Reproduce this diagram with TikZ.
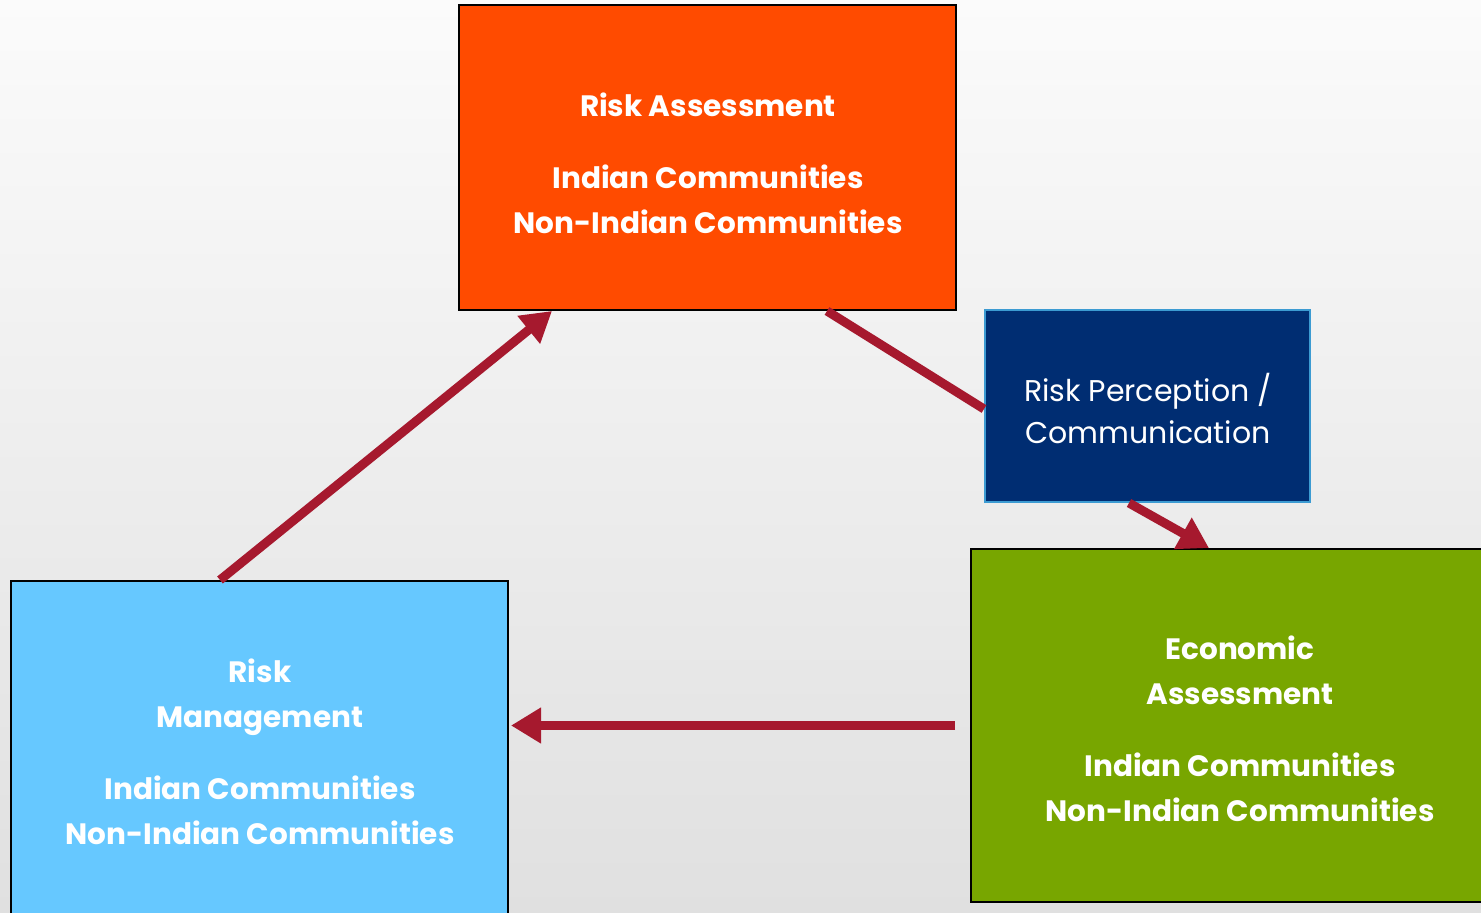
\documentclass[tikz,border=0pt]{standalone}
\usepackage{fontspec}
\setmainfont{Poppins}
\usetikzlibrary{arrows.meta,calc}
\definecolor{orangebox}{HTML}{FF4B00}
\definecolor{navybox}{HTML}{002D72}
\definecolor{navyline}{HTML}{3C9BD2}
\definecolor{greenbox}{HTML}{78A600}
\definecolor{skybox}{HTML}{66C8FF}
\definecolor{arrowred}{HTML}{A6192E}
\definecolor{bgtop}{HTML}{FBFBFB}
\definecolor{bgbot}{HTML}{E0E0E0}
\tikzset{
  box/.style={rectangle, draw=black, line width=2pt, inner sep=0pt},
  boldtext/.style={text=white, align=center, font=\fontsize{29.5}{45}\selectfont\bfseries},
  plaintext/.style={text=white, align=center, font=\fontsize{30}{42}\selectfont},
  link/.style={draw=arrowred, line width=9pt},
  linkarrow/.style={link, -{Triangle[length=30pt,width=34pt]}},
}
\begin{document}
\begin{tikzpicture}[x=1pt,y=-1pt]
\useasboundingbox (0,0) rectangle (1481,913);
\clip (0,0) rectangle (1481,913);
\shade[top color=bgtop, bottom color=bgbot] (0,0) rectangle (1481,913);
% boxes
\node[box, fill=orangebox, minimum width=497pt, minimum height=305pt] (ra) at (707.5,157.5) {};
\node[box, fill=skybox, minimum width=497pt, minimum height=360pt] (rm) at (259.5,761) {};
\node[box, fill=greenbox, minimum width=524pt, minimum height=353pt] (ea) at (1233,725.5) {};
\node[box, fill=navybox, draw=navyline, minimum width=325pt, minimum height=192pt] (rp) at (1147.5,406) {};
% texts
\node[boldtext] (ratext) at (708,163) {Risk Assessment\\[27pt]Indian Communities\\Non-Indian Communities};
\node[boldtext] (rmtext) at (260,752) {Risk\\Management\\[27pt]Indian Communities\\Non-Indian Communities};
\node[boldtext] (eatext) at (1240,729) {Economic\\Assessment\\[27pt]Indian Communities\\Non-Indian Communities};
\node[plaintext] (rptext) at (1148,408) {Risk Perception /\\Communication};
% connector end points
\coordinate (c1a) at ($(rm.north west)+(210,0)$);
\coordinate (c1b) at ($(ra.south west)+(94,0)$);
\coordinate (c2a) at ($(ra.south west)+(369,0)$);
\coordinate (c2b) at ($(rp.north west)+(0,100)$);
\coordinate (c3a) at ($(rp.south west)+(145,0)$);
\coordinate (c3b) at ($(ea.north west)+(239,0)$);
\coordinate (c4a) at ($(ea.west)+(-15,0)$);
\coordinate (c4b) at ($(rm.east |- c4a)+(2,0)$);
% connectors
\draw[linkarrow] (c1a) -- (c1b);
\draw[link] (c2a) -- (c2b);
\draw[linkarrow] (c3a) -- (c3b);
\draw[linkarrow] (c4a) -- (c4b);
\end{tikzpicture}
\end{document}
